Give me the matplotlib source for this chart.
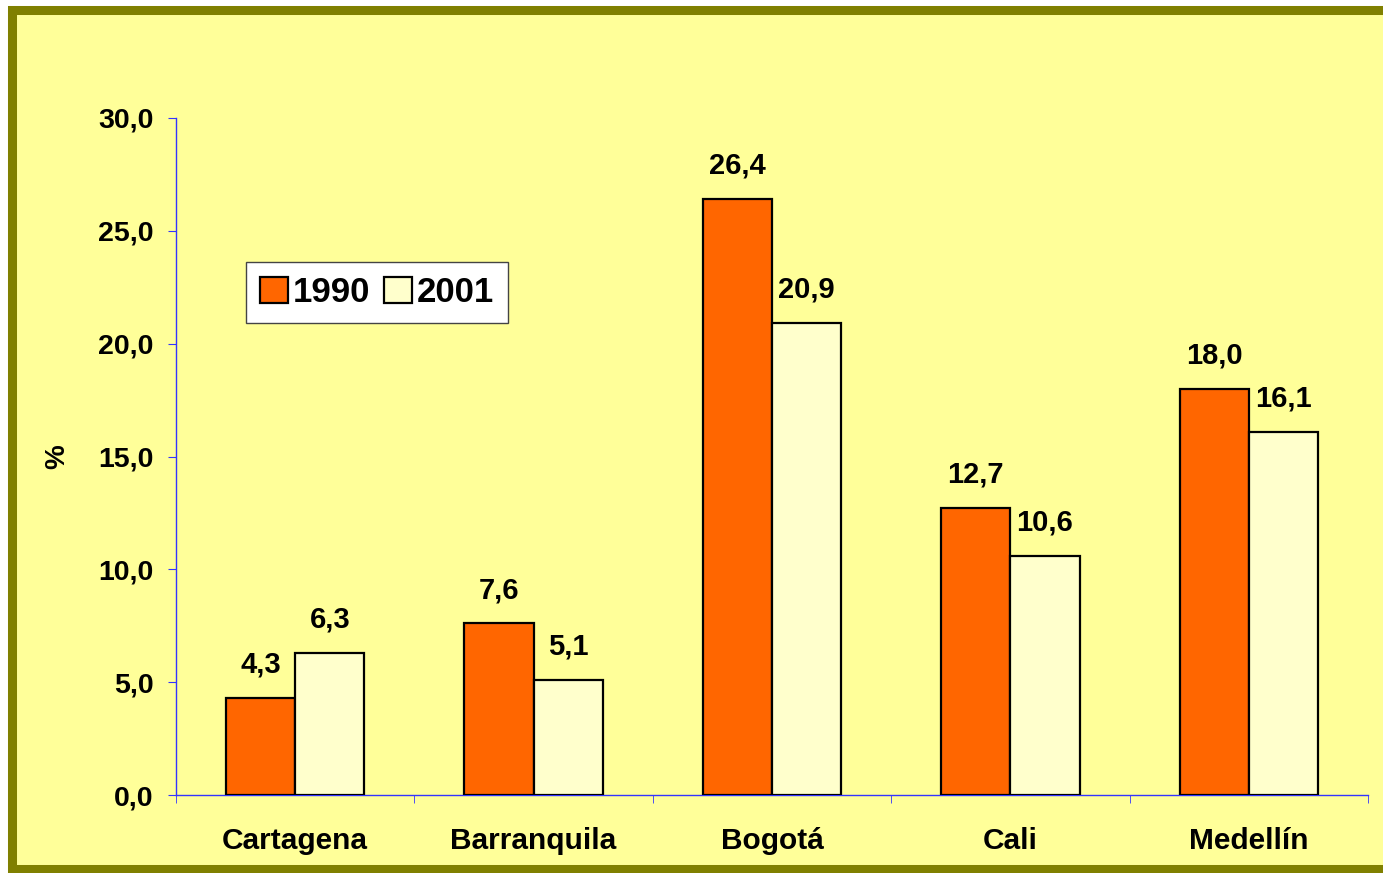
import numpy as np
import matplotlib.pyplot as plt
from matplotlib.patches import Rectangle

# Data
cities = ['Cartagena', 'Barranquila', 'Bogotá', 'Cali', 'Medellín']
v1990 = [4.3, 7.6, 26.4, 12.7, 18.0]
v2001 = [6.3, 5.1, 20.9, 10.6, 16.1]
yticks = [0, 5, 10, 15, 20, 25, 30]

plt.rcParams['font.family'] = ['Liberation Sans', 'DejaVu Sans']
plt.rcParams['font.weight'] = 'bold'

W, H = 1383, 873
fig = plt.figure(figsize=(W / 100, H / 100), dpi=100)
fig.patch.set_facecolor('white')

# yellow panel with olive frame
fig.patches.append(Rectangle((12 / W, 4 / H), (1400 - 12) / W, (869 - 10) / H,
                             transform=fig.transFigure, facecolor='#FFFF99',
                             edgecolor='#808000', linewidth=6.5, zorder=-1))

ax = fig.add_axes([176 / W, (H - 795) / H, (1368 - 176) / W, (795 - 118) / H])
ax.set_facecolor('none')

x = np.arange(len(cities))
bw = 0.29
b1 = ax.bar(x - bw / 2, v1990, bw, color='#FF6600', edgecolor='black', linewidth=1.6, label='1990', zorder=3)
b2 = ax.bar(x + bw / 2, v2001, bw, color='#FFFFCC', edgecolor='black', linewidth=1.6, label='2001', zorder=3)

for bars, vals in [(b1, v1990), (b2, v2001)]:
    for rect, v in zip(bars, vals):
        ax.annotate(f'{v:.1f}'.replace('.', ','),
                    (rect.get_x() + rect.get_width() / 2, rect.get_height()),
                    xytext=(0, 14), textcoords='offset points',
                    ha='center', va='bottom', fontsize=21, fontweight='bold')

ax.set_xlim(-0.5, len(cities) - 0.5)
ax.set_ylim(0, 30)
ax.set_yticks(yticks)
ax.set_yticklabels([f'{t:.1f}'.replace('.', ',') for t in yticks], fontsize=20.5, fontweight='bold')
ax.set_xticks(x)
ax.set_xticklabels(cities, fontsize=21.5, fontweight='bold')
ax.set_xticks(np.arange(-0.5, len(cities)), minor=True)
ax.tick_params(axis='x', which='major', length=0, pad=23)
ax.tick_params(axis='x', which='minor', length=6, direction='out', color='#3333FF')
ax.tick_params(axis='y', length=6, direction='out', color='#3333FF', pad=10)

for s in ['top', 'right']:
    ax.spines[s].set_visible(False)
for s in ['left', 'bottom']:
    ax.spines[s].set_color('#3333FF')
    ax.spines[s].set_linewidth(1)

ax.set_ylabel('%', fontsize=20, fontweight='bold', labelpad=20)

leg = ax.legend(loc='upper left', bbox_to_anchor=(70 / 1192, 1 - (262 - 118) / 677),
                ncol=2, frameon=True, fancybox=False,
                prop={'weight': 'bold', 'size': 25},
                handlelength=0.8, handleheight=0.8, handletextpad=0.15,
                columnspacing=0.4, borderpad=0.4, borderaxespad=0)
leg.get_frame().set_edgecolor('#444444')
leg.get_frame().set_linewidth(1)
leg.get_frame().set_facecolor('white')
leg.get_frame().set_alpha(1)

fig.savefig('out.png', dpi=100)
